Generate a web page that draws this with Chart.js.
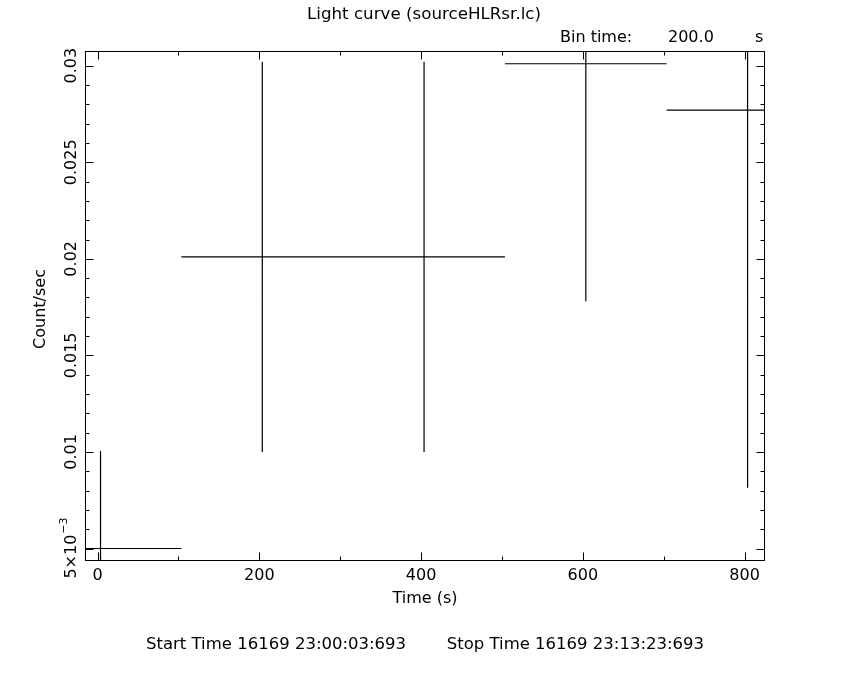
<!DOCTYPE html>
<html><head><meta charset="utf-8">
<script src="https://cdn.jsdelivr.net/npm/chart.js@4.4.1/dist/chart.umd.min.js"></script>
<style>html,body{margin:0;padding:0;background:#fff;}canvas{display:block;}</style>
</head><body>
<canvas id="c" width="850" height="680"></canvas>
<script>
// ---- data ----
const binCenters   = [3.7, 203.7, 403.7, 603.7, 803.7];      // s
const binHalfWidth = [100, 100, 100, 100, 100];               // s
const countRates   = [0.0050, 0.0201, 0.0201, 0.0301, 0.0277]; // count/sec
const rateErrors   = [0.00505, 0.0101, 0.0101, 0.0123, 0.01955];
const xTickValues  = [0, 200, 400, 600, 800];
const xTickLabels  = ['0', '200', '400', '600', '800'];
const yTickValues  = [0.005, 0.01, 0.015, 0.02, 0.025, 0.03];
const yTickLabels  = ['5×10^−3', '0.01', '0.015', '0.02', '0.025', '0.03'];
const titleText    = 'Light curve (sourceHLRsr.lc)';
const binTimeText  = ['Bin time:', '200.0', 's'];
const xTitleText   = 'Time (s)';
const yTitleText   = 'Count/sec';
const footerText   = ['Start Time 16169 23:00:03:693', 'Stop Time 16169 23:13:23:693'];
const xRange = [-15.5, 824];
const yRange = [0.004405, 0.030761];
const xMinorStep = 100;
const yMinorStep = 0.001;

// build segment lists (null breaks between segments)
const hSeg = [], vSeg = [];
for (let i = 0; i < binCenters.length; i++) {
  hSeg.push({x: binCenters[i] - binHalfWidth[i], y: countRates[i]});
  hSeg.push({x: binCenters[i] + binHalfWidth[i], y: countRates[i]});
  hSeg.push({x: null, y: null});
  vSeg.push({x: binCenters[i], y: countRates[i] - rateErrors[i]});
  vSeg.push({x: binCenters[i], y: countRates[i] + rateErrors[i]});
  vSeg.push({x: null, y: null});
}

const FONT = '"DejaVu Sans", sans-serif';

const framePlugin = {
  id: 'frame',
  afterDatasetsDraw(chart) {
    const ctx = chart.ctx, a = chart.chartArea;
    const xs = chart.scales.x, ys = chart.scales.y;
    const L = Math.round(a.left) + 0.5, R = Math.round(a.right) + 0.5;
    const T = Math.round(a.top) + 0.5, B = Math.round(a.bottom) + 0.5;
    ctx.save();
    ctx.strokeStyle = '#000'; ctx.lineWidth = 1;
    ctx.strokeRect(L, T, R - L, B - T);
    ctx.beginPath();
    // x ticks (bottom and top, inward)
    const kx0 = Math.ceil(xs.min / xMinorStep), kx1 = Math.floor(xs.max / xMinorStep);
    for (let k = kx0; k <= kx1; k++) {
      const v = k * xMinorStep;
      const major = xTickValues.some(t => Math.abs(t - v) < 1e-9);
      const len = major ? 8 : 4;
      const px = Math.round(xs.getPixelForValue(v)) + 0.5;
      ctx.moveTo(px, B); ctx.lineTo(px, B - len);
      ctx.moveTo(px, T); ctx.lineTo(px, T + len);
    }
    // y ticks (left and right, inward)
    const ky0 = Math.ceil(ys.min / yMinorStep - 1e-6), ky1 = Math.floor(ys.max / yMinorStep + 1e-6);
    for (let k = ky0; k <= ky1; k++) {
      const v = k * yMinorStep;
      const major = yTickValues.some(t => Math.abs(t - v) < 1e-9);
      const len = major ? 8 : 4;
      const py = Math.round(ys.getPixelForValue(v)) + 0.5;
      ctx.moveTo(L, py); ctx.lineTo(L + len, py);
      ctx.moveTo(R, py); ctx.lineTo(R - len, py);
    }
    ctx.stroke();

    ctx.fillStyle = '#000';
    ctx.font = '16px ' + FONT;
    ctx.textBaseline = 'middle';
    // x tick labels
    ctx.textAlign = 'center';
    xTickValues.forEach((v, i) => {
      ctx.fillText(xTickLabels[i], xs.getPixelForValue(v), B + 15);
    });
    // y tick labels (rotated)
    yTickValues.forEach((v, i) => {
      const py = ys.getPixelForValue(v);
      const lab = yTickLabels[i];
      ctx.save();
      ctx.translate(L - 14, py);
      ctx.rotate(-Math.PI / 2);
      if (lab.includes('^')) {
        const [base, sup] = lab.split('^');
        ctx.font = '16px ' + FONT;
        const w1 = ctx.measureText(base).width;
        ctx.font = '11px ' + FONT;
        const w2 = ctx.measureText(sup).width;
        const x0 = -(w1 + w2) / 2;
        ctx.textAlign = 'left';
        ctx.font = '16px ' + FONT;
        ctx.fillText(base, x0, 0);
        ctx.font = '11px ' + FONT;
        ctx.fillText(sup, x0 + w1 + 1, -7);
      } else {
        ctx.textAlign = 'center';
        ctx.fillText(lab, 0, 0);
      }
      ctx.restore();
    });
    ctx.font = '16px ' + FONT;
    // axis titles
    ctx.textAlign = 'center';
    ctx.fillText(xTitleText, (L + R) / 2, B + 38);
    ctx.save();
    ctx.translate(L - 45, (T + B) / 2 + 3);
    ctx.rotate(-Math.PI / 2);
    ctx.fillText(yTitleText, 0, 0);
    ctx.restore();
    // title
    ctx.font = '16.7px ' + FONT;
    ctx.fillText(titleText, 424, 15);
    // bin time
    ctx.font = '16px ' + FONT;
    ctx.textAlign = 'left';
    ctx.fillText(binTimeText[0], 560, 38);
    ctx.fillText(binTimeText[1], 668, 38);
    ctx.fillText(binTimeText[2], 755, 38);
    // footer
    ctx.font = '16.5px ' + FONT;
    ctx.fillText(footerText[0], 146, 645);
    ctx.textAlign = 'right';
    ctx.fillText(footerText[1], 704, 645);
    ctx.restore();
  }
};

new Chart(document.getElementById('c'), {
  type: 'scatter',
  data: {
    datasets: [
      {label: 'bins', data: hSeg, showLine: true, spanGaps: false, borderColor: '#000', borderWidth: 1.2, pointRadius: 0},
      {label: 'errors', data: vSeg, showLine: true, spanGaps: false, borderColor: '#000', borderWidth: 1.2, pointRadius: 0}
    ]
  },
  options: {
    responsive: false,
    animation: false,
    devicePixelRatio: 1,
    layout: {padding: {left: 85, right: 86, top: 51, bottom: 120}},
    plugins: {legend: {display: false}, tooltip: {enabled: false}, title: {display: false}},
    scales: {
      x: {type: 'linear', min: xRange[0], max: xRange[1], display: false},
      y: {type: 'linear', min: yRange[0], max: yRange[1], display: false}
    }
  },
  plugins: [framePlugin]
});
</script>
</body></html>
